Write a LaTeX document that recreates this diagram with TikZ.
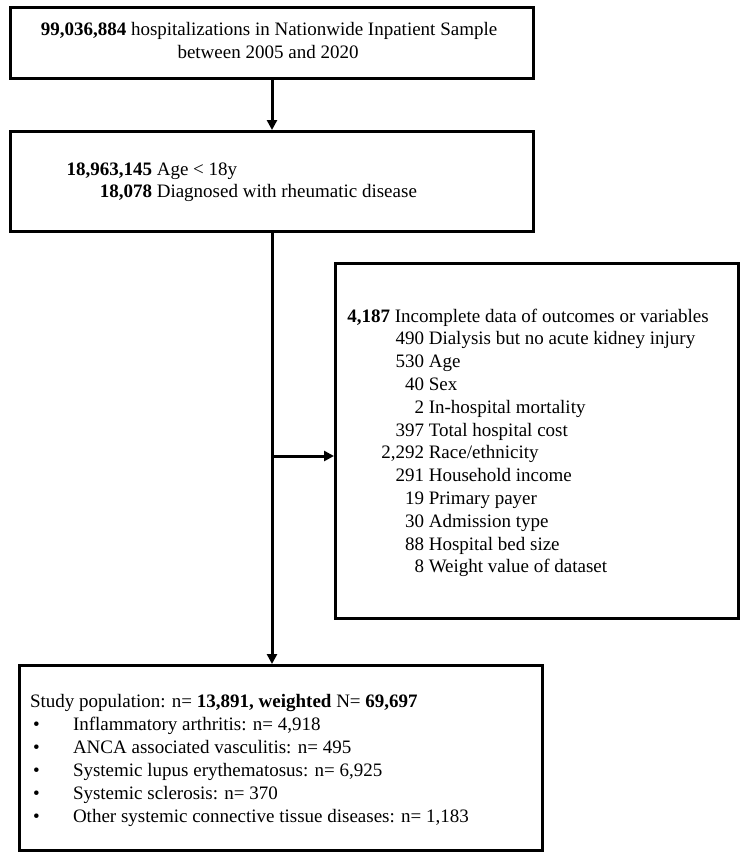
\documentclass[tikz,border=0pt]{standalone}
\usepackage{fontspec}
\setmainfont{Liberation Serif}
\usetikzlibrary{arrows.meta}
\begin{document}
\begin{tikzpicture}[x=1pt,y=-1pt,
  font=\fontsize{19}{22.8}\selectfont,
  box/.style={draw, line width=3pt, rectangle, inner sep=0pt, anchor=north west},
  txt/.style={inner sep=0pt, outer sep=0pt, anchor=base west},
  numr/.style={inner sep=0pt, outer sep=0pt, anchor=base east},
  ctr/.style={inner sep=0pt, outer sep=0pt, anchor=base},
  arr/.style={line width=3pt, -{Triangle[length=10pt,width=10pt]}},
  ln/.style={line width=3pt}]
\fill[white] (0,0) rectangle (744,857);
\useasboundingbox (0,0) rectangle (744,857);

% boxes
\node[box, minimum width=523pt, minimum height=71pt] (b1) at (9,6) {};
\node[box, minimum width=523pt, minimum height=100pt] (b2) at (9,130) {};
\node[box, minimum width=403pt, minimum height=355pt] (b3) at (334,262) {};
\node[box, minimum width=523pt, minimum height=185pt] (b4) at (18,664) {};

% box 1 text
\node[ctr] (t1a) at (269,35) {\textbf{99,036,884} hospitalizations in Nationwide Inpatient Sample};
\node[ctr] (t1b) at (268,58) {between 2005 and 2020};

% box 2 text
\node[numr] (t2n1) at (152,175) {\textbf{18,963,145}};
\node[txt] (t2l1) at (156.8,175) {Age < 18y};
\node[numr] (t2n2) at (152,197) {\textbf{18,078}};
\node[txt] (t2l2) at (156.8,197) {Diagnosed with rheumatic disease};

% box 3 text
\node[numr] (t3n0) at (390,322) {\textbf{4,187}};
\node[txt] (t3l0) at (394.8,322) {Incomplete data of outcomes or variables};
\foreach \n/\t [count=\i] in {490/{Dialysis but no acute kidney injury}, 530/{Age}, 40/{Sex}, 2/{In-hospital mortality}, 397/{Total hospital cost}, {2,292}/{Race/ethnicity}, 291/{Household income}, 19/{Primary payer}, 30/{Admission type}, 88/{Hospital bed size}, 8/{Weight value of dataset}}{
  \node[numr] (t3n\i) at (424, 322+22.8*\i) {\n};
  \node[txt] (t3l\i) at (428.8, 322+22.8*\i) {\t};
}

% box 4 text
\node[txt] (t4h) at (30,707) {Study population: n= \textbf{13,891, weighted} N= \textbf{69,697}};
\foreach \t [count=\i] in {{Inflammatory arthritis: n= 4,918}, {ANCA associated vasculitis: n= 495}, {Systemic lupus erythematosus: n= 6,925}, {Systemic sclerosis: n= 370}, {Other systemic connective tissue diseases: n= 1,183}}{
  \node[txt] (t4b\i) at (33, 707+23*\i) {•};
  \node[txt] (t4l\i) at (73, 707+23*\i) {\t};
}

% connectors
\coordinate (sp) at (272,0);
\coordinate (j) at (272,456);
\draw[arr] (b1.south -| sp) -- (b2.north -| sp);
\draw[arr] (b2.south -| sp) -- (b4.north -| sp);
\draw[arr] (j) -- (j -| b3.west);
\end{tikzpicture}
\end{document}
